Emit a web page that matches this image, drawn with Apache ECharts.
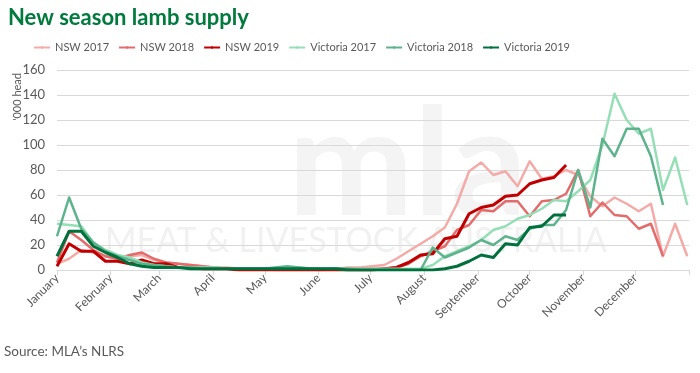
<!DOCTYPE html>
<html>
<head>
<meta charset="utf-8">
<script src="https://cdn.jsdelivr.net/npm/echarts@6/dist/echarts.min.js"></script>
<style>
html,body{margin:0;padding:0;background:#fff;}
#chart{width:700px;height:373px;}
</style>
</head>
<body>
<div id="chart"></div>
<script>
// Weekly supply ('000 head), week 0 = first week of January (7-day steps)
const nsw2017 = [5, 9, 16, 14, 11, 9, 11, 12, 8, 6, 5, 4, 3,
  2, 2, 1, 1, 1, 1, 1, 1, 1, 1, 1, 2, 2, 3,
  4, 9, 15, 21, 27, 34, 53, 79, 86, 76, 79, 67, 87,
  73, 75, 80, 76, 59, 51, 58, 53, 47, 53, 11, 37, 11];
const nsw2018 = [6, 31, 24, 16, 11, 9, 12, 14, 9, 6, 5, 4, 3,
  2, 1, 1, 1, 1, 0, 0, 0, 0, 0, 1, 1, 1, 1,
  1, 2, 5, 11, 15, 19, 32, 36, 48, 47, 55, 55, 43,
  55, 56, 61, 80, 43, 54, 44, 43, 33, 37, 11];
const nsw2019 = [3, 21, 15, 15, 7, 7, 5, 8, 5, 5, 2, 2, 1,
  1, 1, 0, 0, 0, 0, 0, 0, 0, 0, 0, 0, 0, 0,
  1, 2, 6, 12, 13, 25, 27, 45, 50, 52, 59, 60, 69, 72, 74, 84];
const vic2017 = [37, 36, 35, 22, 16, 12, 10, 6, 4, 3, 2, 2, 2,
  2, 1, 1, 1, 1, 1, 2, 2, 1, 1, 1, 1, 1, 1,
  1, 1, 1, 1, 4, 11, 15, 19, 24, 32, 35, 41, 44,
  49, 56, 55, 63, 72, 100, 141, 120, 109, 113, 64, 90, 52];
const vic2018 = [27, 58, 33, 22, 15, 11, 8, 5, 4, 3, 2, 2, 1,
  1, 1, 1, 1, 1, 2, 3, 2, 1, 1, 1, 1, 0, 0,
  0, 0, 0, 0, 18, 10, 14, 18, 24, 20, 27, 24, 33,
  36, 36, 48, 80, 50, 105, 91, 113, 113, 91, 52];
const vic2019 = [11, 31, 31, 19, 14, 10, 5, 3, 2, 2, 2, 1, 1,
  1, 1, 1, 1, 1, 1, 1, 1, 1, 1, 1, 0, 0, 0,
  0, 0, 0, 0, 0, 1, 3, 7, 12, 10, 21, 20, 34, 35, 44, 44];

const seriesNames = ['NSW 2017', 'NSW 2018', 'NSW 2019', 'Victoria 2017', 'Victoria 2018', 'Victoria 2019'];
const months = ['January', 'February', 'March', 'April', 'May', 'June', 'July', 'August', 'September', 'October', 'November', 'December'];
const monthStartDay = [0, 31, 59, 90, 120, 151, 181, 212, 243, 273, 304, 334];
const yearEndDay = 365;

const allData = [nsw2017, nsw2018, nsw2019, vic2017, vic2018, vic2019];
const colors = ['#f4aba8', '#e36b6b', '#c00000', '#95dfb6', '#5db38c', '#00703c'];
const widths = [2.5, 2.5, 3, 2.5, 2.5, 3];

function toPoints(arr) { return arr.map((v, i) => [i * 7, v]); }

const chart = echarts.init(document.getElementById('chart'), null, {renderer: 'canvas'});
const font = 'Lato, "Noto Sans", sans-serif';

const option = {
  backgroundColor: '#ffffff',
  animation: false,
  textStyle: {fontFamily: font},
  title: {
    text: 'New season lamb supply',
    left: 3, top: 2,
    textStyle: {fontFamily: font, fontWeight: 'bold', fontSize: 22, color: '#007a3d'}
  },
  legend: {
    data: seriesNames,
    top: 37, left: 28,
    itemWidth: 16, itemHeight: 3, itemGap: 9,
    textStyle: {fontSize: 11, color: '#595959', fontFamily: font},
  },
  graphic: [
    {type: 'text', left: 12, top: 73, rotation: Math.PI / 2, z: 10,
      style: {text: "'000 head", fontSize: 11, fill: '#595959', fontFamily: font}},
    {type: 'text', left: 4, top: 345, z: 10,
      style: {text: 'Source: MLA\u2019s NLRS', fontSize: 13.5, fill: '#595959', fontFamily: font}},
    {type: 'text', left: 105, top: 224, z: -1, silent: true,
      style: {text: 'MEAT & LIVESTOCK AUSTRALIA', fontSize: 34, fill: '#f1f1f1', fontFamily: font}},
    {type: 'text', left: 288, top: 92, z: -1, silent: true,
      style: {text: 'mla', fontSize: 150, fontWeight: 'bold', fill: '#f4f4f4', fontFamily: font}}
  ],
  grid: {left: 57, right: 11, top: 70, bottom: 103, containLabel: false},
  xAxis: {
    type: 'value', min: 0, max: yearEndDay,
    splitLine: {show: false},
    axisLine: {show: true, lineStyle: {color: '#d9d9d9', width: 1}},
    axisTick: {show: true, customValues: monthStartDay.concat([yearEndDay]), length: 5, lineStyle: {color: '#d9d9d9'}},
    axisLabel: {
      customValues: monthStartDay,
      rotate: 45, fontSize: 12, color: '#595959', margin: 6, fontFamily: font,
      formatter: function (v) { const k = monthStartDay.indexOf(v); return k >= 0 ? months[k] : ''; }
    }
  },
  yAxis: {
    type: 'value', min: 0, max: 160, interval: 20,
    axisLine: {show: false}, axisTick: {show: false},
    splitLine: {lineStyle: {color: '#d9d9d9', width: 1}},
    axisLabel: {fontSize: 13, color: '#595959', margin: 12, fontFamily: font}
  },
  series: allData.map((arr, k) => ({
    name: seriesNames[k],
    type: 'line',
    data: toPoints(arr),
    symbol: 'none',
    lineStyle: {color: colors[k], width: widths[k], join: 'round'},
    itemStyle: {color: colors[k]},
    z: 2 + k
  }))
};
chart.setOption(option);
</script>
</body>
</html>
